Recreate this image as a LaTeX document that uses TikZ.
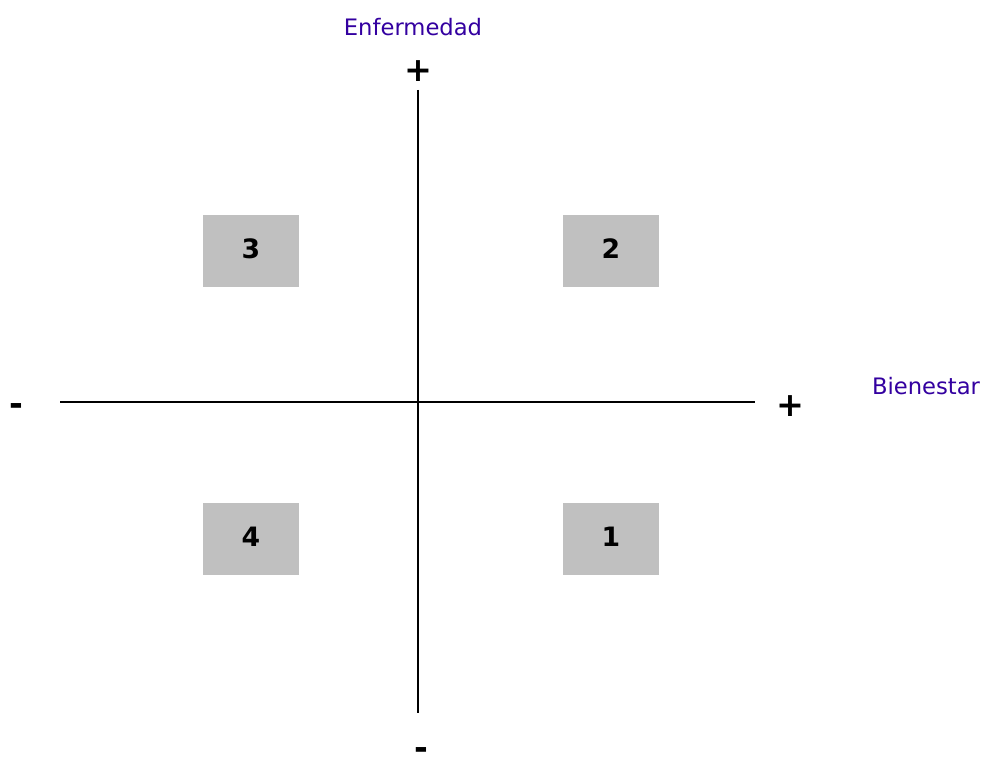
\documentclass[tikz,border=0pt]{standalone}
\usepackage{fontspec}
\setmainfont{DejaVu Sans}
\begin{document}
\begin{tikzpicture}
    [x=0.75pt,y=-0.75pt,
    % Styles
    axis line/.style={line width=1.5pt},
    quadrant/.style={fill=quadgray,minimum width=72pt,minimum height=54pt,
      inner sep=0pt,font=\fontsize{20}{22}\selectfont\bfseries},
    axis label/.style={text=labelcolor,font=\fontsize{17}{20}\selectfont},
    sign/.style={font=\fontsize{25}{28}\selectfont\bfseries}]
    % Colors
    \definecolor{quadgray}{RGB}{192,192,192}
    \definecolor{labelcolor}{RGB}{51,0,160}
    \useasboundingbox (0,0) rectangle (989,767);
    % The axes
    \coordinate (x min) at (60,402);
    \coordinate (x max) at (755,402);
    \coordinate (y min) at (418,713);
    \coordinate (y max) at (418,90);
    \draw[axis line] (x min) -- (x max);
    \draw[axis line] (y max) -- (y min);
    % Signs and labels
    \node[sign] (y plus) at (418,71) {+};
    \node[sign,inner sep=0pt] (y minus) at (421,754) {-};
    \node[sign] (x plus) at (790,406) {+};
    \node[sign] (x minus) at (16,410) {-};
    \node[axis label] (enfermedad) at (413,27) {Enfermedad};
    \node[axis label] (bienestar) at (926,386) {Bienestar};
    % Quadrants
    \foreach \q/\x/\y in {1/611/539, 2/611/251, 3/251/251, 4/251/539}
      \node[quadrant] (q\q) at (\x,\y) {\raisebox{3pt}{\q}};
  \end{tikzpicture}
\end{document}
